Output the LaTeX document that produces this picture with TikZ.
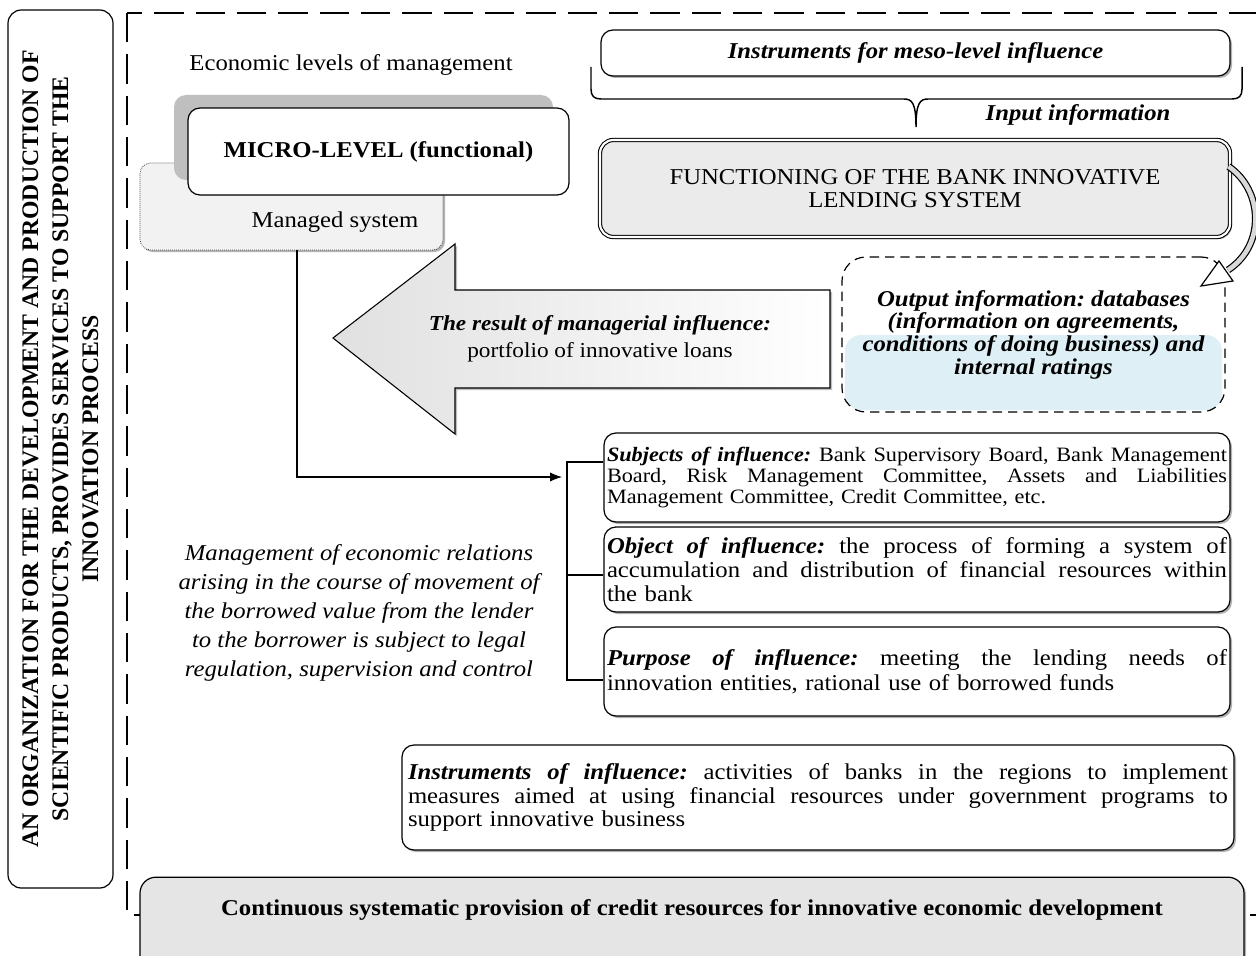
\documentclass[tikz,border=0pt]{standalone}
\usepackage{fontspec}
\setmainfont{Liberation Serif}[FakeStretch=1.09]
\newfontfamily\orgfont{Liberation Serif}
\usetikzlibrary{shadows,calc,arrows.meta}
\definecolor{outblue}{RGB}{222,239,245}
\setlength\parindent{0pt}
\frenchspacing
\newcommand{\jline}[2]{\leavevmode{\spaceskip=0.25em plus 3em minus 0.05em\relax\hbox to #1{#2}}}
\newcommand{\bi}[1]{\textbf{\textit{#1}}}
\begin{document}
\begin{tikzpicture}[x=0.75pt,y=-0.75pt,
  shd/.style={drop shadow={shadow xshift=1.5pt,shadow yshift=-1.5pt,fill=black!30,opacity=1}},
  box/.style={draw=black, line width=0.9pt, rounded corners=9pt, fill=white},
  fbig/.style={font=\fontsize{17}{20}\selectfont},
  fbi/.style={font=\bfseries\itshape\fontsize{17}{20}\selectfont},
  conn/.style={line width=0.8pt}
]
\fill[white] (0,0) rectangle (1256,956);
\useasboundingbox (0,0) rectangle (1256,956);
\clip (0,0) rectangle (1256,956);

% dashed frame
\draw[line width=2.2pt, dash pattern=on 22pt off 9pt] (127,13) rectangle (1258,915);

% left organisation box
\node[draw, line width=0.9pt, rounded corners=10pt, fill=white, rotate=90,
  minimum width=658.5pt, minimum height=78.75pt, inner sep=0pt, align=center,
  font=\orgfont\bfseries\fontsize{17.8}{22.5}\selectfont] (org) at (60.5,449)
  {AN ORGANIZATION FOR THE DEVELOPMENT AND PRODUCTION OF\\
   SCIENTIFIC PRODUCTS, PROVIDES SERVICES TO SUPPORT THE\\
   INNOVATION PROCESS};

% bottom box
\node[draw, line width=0.9pt, rounded corners=12pt, fill=black!10,
  minimum width=828pt, minimum height=92pt, shd] (cont) at (692,938.5) {};
\node[font=\bfseries\fontsize{17}{20}\selectfont] (conttxt) at (692,910)
  {Continuous systematic provision of credit resources for innovative economic development};

% economic levels
\node[fbig] (econ) at (351,65) {Economic levels of management};
\node[draw, densely dotted, line width=0.5pt, rounded corners=8pt, fill=black!5,
  minimum width=227.25pt, minimum height=65.25pt, shd] (managed) at (291.5,206.5) {};
\node[fbig] (managedlbl) at (335,222) {Managed system};
\node[fill=black!25, rounded corners=9pt, minimum width=284.25pt, minimum height=63.75pt] (microbg) at (363.5,137.5) {};
\node[box, minimum width=285.75pt, minimum height=65.25pt,
  font=\bfseries\fontsize{17}{20}\selectfont] (micro) at (378.5,151.5) {MICRO-LEVEL (functional)};

% meso level
\node[box, shd, minimum width=471.75pt, minimum height=34.5pt, fbi] (meso) at (915.5,53)
  {Instruments for meso-level influence};
\draw[line width=1.1pt] (591,67) -- (591,89) .. controls (591,96) and (594,99) .. (601,99)
  -- (904,99) .. controls (912,99) and (916,103) .. (916,127)
  .. controls (916,103) and (920,99) .. (928,99) -- (1232,99)
  .. controls (1239,99) and (1242,96) .. (1242,89) -- (1242,67);
\node[fbi] (inp) at (1078,115) {Input information};

% functioning box
\node[draw, line width=0.8pt, double=white, double distance=1.6pt, rounded corners=10pt,
  fill=black!8, minimum width=472.5pt, minimum height=72.75pt, align=center, shd,
  font=\fontsize{17}{17.5}\selectfont] (func) at (915,188.5)
  {FUNCTIONING OF THE BANK INNOVATIVE\\LENDING SYSTEM};

% output box
\fill[outblue, rounded corners=12pt] (845,335) rectangle (1222,410);
\node[draw, dash pattern=on 7pt off 4.5pt, line width=0.9pt, rounded corners=18pt,
  minimum width=287.25pt, minimum height=116.25pt, align=center,
  font=\bfseries\itshape\fontsize{17}{17}\selectfont] (output) at (1033.5,334.5)
  {Output information: databases\\(information on agreements,\\conditions of doing business) and\\internal ratings};

% curved arrow
\draw[line width=0.9pt, double=black!15, double distance=3.5pt]
  ($(func.east)+(-2,-22)$) .. controls (1263,190) and (1266,245) .. (1228,270);
\draw[line width=0.9pt, fill=white, line join=miter] (1201,286) -- (1219,261) -- (1233,281) -- cycle;

% big arrow
\draw[line width=0.8pt, left color=black!12, right color=white,
  preaction={fill=black!25, transform canvas={xshift=1.5pt,yshift=-1.5pt}}]
  (333,338) -- (455,244) -- (455,290) -- (830,290) -- (830,388) -- (455,388) -- (455,434) -- cycle;
\node[align=center, font=\fontsize{16}{20}\selectfont] (result) at (600,339)
  {\bi{The result of managerial influence:}\\portfolio of innovative loans};

% management text
\node[align=center, font=\itshape\fontsize{17}{21.75}\selectfont] (mgmt) at (359,613)
  {Management of economic relations\\arising in the course of movement of\\the borrowed value from the lender\\to the borrower is subject to legal\\regulation, supervision and control};

% right boxes
\node[box, shd, minimum width=469.5pt, minimum height=66.75pt, text width=465pt, inner xsep=2.25pt,
  align=left, font=\fontsize{15.3}{15.75}\selectfont] (subj) at (917,477.5)
  {\jline{465pt}{\bi{Subjects of influence:} Bank Supervisory Board, Bank Management}\\
   \jline{465pt}{Board, Risk Management Committee, Assets and Liabilities}\\
   Management Committee, Credit Committee, etc.};
\node[box, shd, minimum width=469.5pt, minimum height=63.75pt, text width=465pt, inner xsep=2.25pt,
  align=left, font=\fontsize{17}{18}\selectfont] (obj) at (917,569.5)
  {\jline{465pt}{\bi{Object of influence:} the process of forming a system of}\\
   \jline{465pt}{accumulation and distribution of financial resources within}\\
   the bank};
\node[box, shd, minimum width=469.5pt, minimum height=66.75pt, text width=465pt, inner xsep=2.25pt,
  align=left, font=\fontsize{17}{18.75}\selectfont] (purp) at (917,671.5)
  {\jline{465pt}{\bi{Purpose of influence:} meeting the lending needs of}\\
   innovation entities, rational use of borrowed funds};
\node[box, shd, minimum width=624pt, minimum height=78.75pt, text width=615pt, inner xsep=4.5pt,
  align=left, font=\fontsize{17}{17.5}\selectfont] (instr) at (818,797.5)
  {\jline{615pt}{\bi{Instruments of influence:} activities of banks in the regions to implement}\\
   \jline{615pt}{measures aimed at using financial resources under government programs to}\\
   support innovative business};

% connectors
\coordinate (brtop) at (567,462);
\coordinate (brmid) at (567,575);
\coordinate (brbot) at (567,680);
\coordinate (brin) at (562,477);
\draw[conn, -{Latex[length=9pt,width=7pt]}] ($(managed.south)+(5.5,0)$) |- (brin);
\draw[conn] (subj.west |- brtop) -- (brtop) -- (brbot) -- (purp.west |- brbot);
\draw[conn] (brmid) -- (obj.west |- brmid);
\end{tikzpicture}
\end{document}
